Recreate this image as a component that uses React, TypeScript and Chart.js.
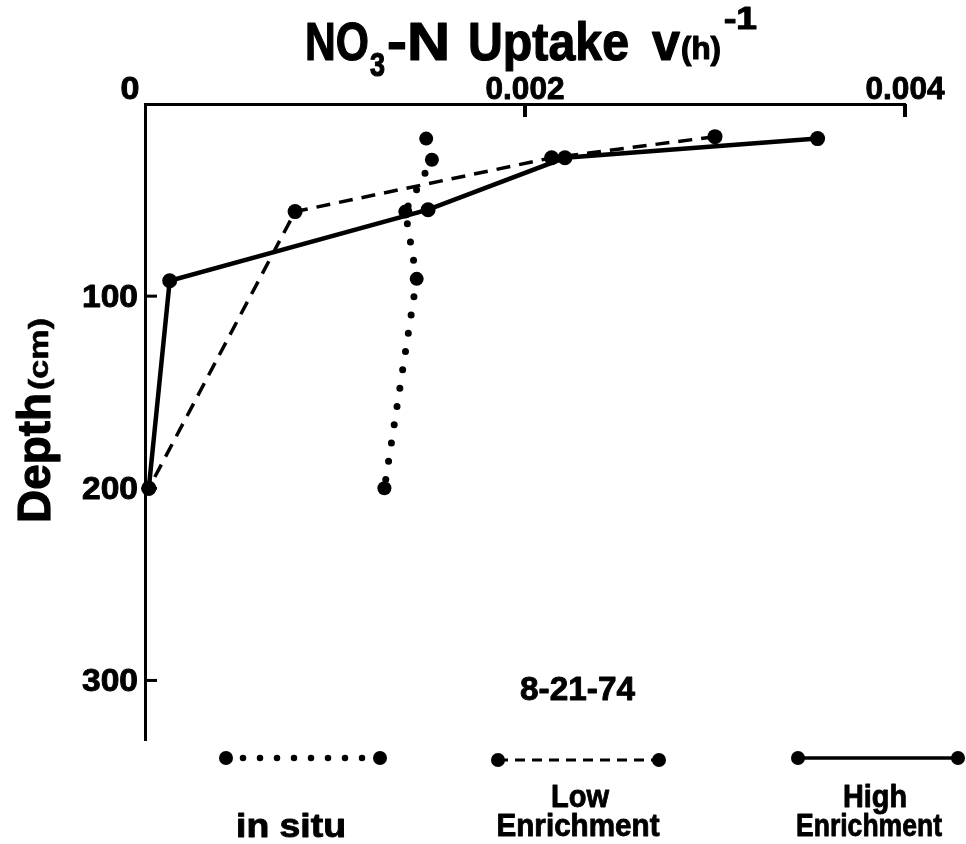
import React, { useEffect, useRef } from 'react';
import { Chart, registerables } from 'chart.js';

Chart.register(...registerables);

// ---- data ----
const depthTicks = [100, 200, 300];
const uptakeTicks = [0, 0.002, 0.004];
const uptakeTickLabels = ['0', '0.002', '0.004'];

const inSituUptake = [0.00148, 0.00151, 0.00137, 0.00143, 0.00126];
const inSituDepth = [18, 29, 56, 91, 200];

const lowUptake = [0.0030, 0.00214, 0.00079, 0.00002];
const lowDepth = [17, 28, 56, 200];

const highUptake = [0.00354, 0.00221, 0.00149, 0.00013, 0.00002];
const highDepth = [18, 28, 55, 92, 200];

const seriesNames = ['in situ', 'Low Enrichment', 'High Enrichment'];
const dateLabel = '8-21-74';

const INK = '#000';
const FONT = '"Liberation Sans", Arial, Helvetica, sans-serif';

function pts(xs: number[], ys: number[]) {
  return xs.map((x, i) => ({ x, y: ys[i] }));
}

function fitText(ctx: CanvasRenderingContext2D, text: string, x: number, y: number, w: number, size: number, align: 'left' | 'center' = 'left', heavy = 0.9) {
  ctx.save();
  ctx.font = `bold ${size}px ${FONT}`;
  ctx.textAlign = 'left';
  ctx.textBaseline = 'alphabetic';
  const m = ctx.measureText(text).width || 1;
  const sx = w / m;
  const left = align === 'center' ? x - w / 2 : x;
  ctx.translate(left, y);
  ctx.scale(sx, 1);
  ctx.fillStyle = INK;
  ctx.strokeStyle = INK;
  ctx.lineJoin = 'round';
  ctx.lineWidth = heavy;
  ctx.fillText(text, 0, 0);
  if (heavy > 0) ctx.strokeText(text, 0, 0);
  ctx.restore();
}

function sample(ctx: CanvasRenderingContext2D, x1: number, x2: number, y: number, dash: number[], lw: number, cap: CanvasLineCap) {
  ctx.save();
  ctx.strokeStyle = INK;
  ctx.lineWidth = lw;
  ctx.lineCap = cap;
  ctx.setLineDash(dash);
  ctx.beginPath();
  ctx.moveTo(x1, y);
  ctx.lineTo(x2, y);
  ctx.stroke();
  ctx.setLineDash([]);
  ctx.fillStyle = INK;
  [x1, x2].forEach((x) => {
    ctx.beginPath();
    ctx.arc(x, y, 7, 0, Math.PI * 2);
    ctx.fill();
  });
  ctx.restore();
}

const decorPlugin = {
  id: 'decor',
  afterDraw(chart: any) {
    const ctx: CanvasRenderingContext2D = chart.ctx;
    const xs = chart.scales.x;
    const ys = chart.scales.y;
    const area = chart.chartArea;
    ctx.save();
    ctx.strokeStyle = INK;
    ctx.fillStyle = INK;

    // y ticks (inside) + labels
    ctx.lineWidth = 3;
    depthTicks.forEach((v) => {
      const py = ys.getPixelForValue(v);
      ctx.beginPath();
      ctx.moveTo(area.left, py);
      ctx.lineTo(area.left + 12, py);
      ctx.stroke();
      fitText(ctx, String(v), area.left - 7 - 56, py + 11, 56, 31);
    });

    // x ticks (inside) + labels
    ctx.lineWidth = 4;
    uptakeTicks.forEach((v, i) => {
      const px = xs.getPixelForValue(v);
      if (v !== 0) {
        ctx.beginPath();
        ctx.moveTo(px, area.top);
        ctx.lineTo(px, area.top + 13);
        ctx.stroke();
      }
      const off = v === 0 ? -15 : 0;
      const w = v === 0 ? 19 : 79;
      fitText(ctx, uptakeTickLabels[i], px + off, 99, w, 31, 'center');
    });
    ctx.restore();

    // title  NO3-N Uptake v(h)^-1
    fitText(ctx, 'NO', 305, 60, 64, 53, 'left', 1.2);
    fitText(ctx, '3', 370, 76, 15, 33, 'left', 1.2);
    fitText(ctx, '-N', 387, 60, 63, 53, 'left', 1.2);
    fitText(ctx, 'Uptake', 468, 60, 161, 53, 'left', 1.2);
    fitText(ctx, 'v', 652, 60, 28, 53, 'left', 1.2);
    fitText(ctx, '(h)', 681, 59, 40, 32, 'left', 1.2);
    fitText(ctx, '-1', 724, 29, 33, 32, 'left', 1.2);

    // y title (rotated)
    ctx.save();
    ctx.translate(50, 523);
    ctx.rotate(-Math.PI / 2);
    fitText(ctx, 'Depth', 0, 0, 130, 46, 'left', 1.2);
    fitText(ctx, '(cm)', 133, -2, 72, 28, 'left', 0.6);
    ctx.restore();

    // date
    fitText(ctx, dateLabel, 520, 700, 115, 33);

    // legend samples
    sample(ctx, 226, 380, 758, [0, 17], 6.5, 'round');
    sample(ctx, 498, 659, 760, [10, 7], 3, 'butt');
    sample(ctx, 798, 958, 758, [], 3.5, 'butt');

    fitText(ctx, seriesNames[0], 291, 837, 110, 33, 'center');
    fitText(ctx, seriesNames[1].split(' ')[0], 580, 807, 58, 32, 'center');
    fitText(ctx, seriesNames[1].split(' ')[1], 578, 836, 163, 32, 'center');
    fitText(ctx, seriesNames[2].split(' ')[0], 875, 807, 64, 32, 'center');
    fitText(ctx, seriesNames[2].split(' ')[1], 869, 836, 146, 32, 'center');
  },
};

export default function App() {
  const ref = useRef<HTMLCanvasElement | null>(null);

  useEffect(() => {
    document.body.style.margin = '0';
    document.body.style.background = '#fff';
    const canvas = ref.current;
    if (!canvas) return;
    const common = {
      fill: false,
      tension: 0,
      clip: false as any,
      borderColor: INK,
      pointBackgroundColor: INK,
      pointBorderColor: INK,
      pointBorderWidth: 0,
      pointRadius: 7.5,
      pointHoverRadius: 7.5,
    };
    const chart = new Chart(canvas, {
      type: 'line',
      data: {
        datasets: [
          {
            ...common,
            label: seriesNames[0],
            data: pts(inSituUptake, inSituDepth),
            borderWidth: 7,
            borderDash: [0, 18.5],
            borderCapStyle: 'round',
            pointRadius: 7,
          },
          {
            ...common,
            label: seriesNames[1],
            data: pts(lowUptake, lowDepth),
            borderWidth: 3.5,
            borderDash: [14, 9],
          },
          {
            ...common,
            label: seriesNames[2],
            data: pts(highUptake, highDepth),
            borderWidth: 4.5,
          },
        ] as any,
      },
      options: {
        responsive: false,
        animation: false,
        events: [],
        layout: { padding: { left: 145, top: 104, right: 61, bottom: 104 } },
        plugins: { legend: { display: false }, title: { display: false }, tooltip: { enabled: false } },
        scales: {
          x: {
            type: 'linear',
            position: 'top',
            min: 0,
            max: 0.004,
            grid: { display: false },
            ticks: { display: false },
            border: { display: true, width: 3, color: INK },
            afterBuildTicks: (s: any) => { s.ticks = uptakeTicks.map((v) => ({ value: v })); },
            afterFit: (s: any) => { s.height = 0; },
          },
          y: {
            type: 'linear',
            position: 'left',
            reverse: true,
            min: 0,
            max: 331,
            grid: { display: false },
            ticks: { display: false },
            border: { display: true, width: 3, color: INK },
            afterBuildTicks: (s: any) => { s.ticks = depthTicks.map((v) => ({ value: v })); },
            afterFit: (s: any) => { s.width = 0; },
          },
        },
      } as any,
      plugins: [decorPlugin],
    });
    return () => chart.destroy();
  }, []);

  return (
    <div style={{ width: 966, height: 844, background: '#fff' }}>
      <canvas ref={ref} width={966} height={844} style={{ display: 'block' }} />
    </div>
  );
}
